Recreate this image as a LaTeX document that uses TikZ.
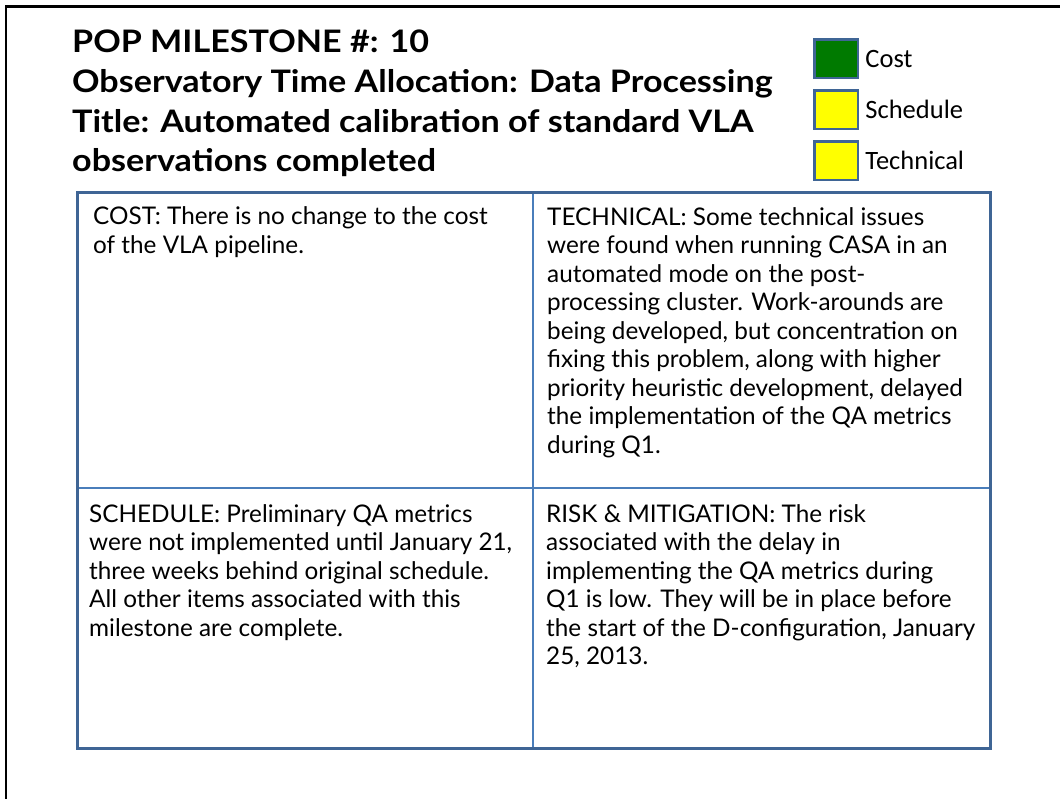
\documentclass[tikz,border=0pt]{standalone}
\usepackage{fontspec}
\setmainfont{Lato}
\newfontfamily\legfont{Carlito}
\newfontfamily\titlefont{Lato}[FakeStretch=1.1]
\usepackage{tikz}
\usetikzlibrary{positioning}
\definecolor{slideblue}{HTML}{3F6595}
\definecolor{cellblue}{HTML}{4A7EBB}
\definecolor{costgreen}{HTML}{007A00}
\definecolor{flagyellow}{HTML}{FFFF00}

\begin{document}
\begin{tikzpicture}[x=1pt, y=-1pt,
    flag/.style={draw=slideblue, line width=2.5pt, minimum width=43.5pt, minimum height=38.5pt, inner sep=0pt},
    flaglabel/.style={right=6pt, inner sep=0pt, font=\legfont\fontsize{26.5}{30}\selectfont},
    cell/.style={draw=cellblue, line width=2pt, inner sep=0pt, outer sep=0pt},
    celltext/.style={anchor=base west, inner sep=0pt, align=left, font=\fontsize{24.3}{28.5}\selectfont}]
    \useasboundingbox (0,0) rectangle (1060,799);
    \draw[line width=2.5pt] (6,799) -- (6,6.5) -- (1060,6.5); % cornice slide

    % titolo (ancora sull'ultima riga)
    \node[anchor=base west, inner sep=0pt, align=left, font=\titlefont\bfseries\fontsize{31}{39.7}\selectfont] (title) at (72,172)
        {POP MILESTONE \#: 10\\Observatory Time Allocation: Data Processing\\Title: Automated calibration of standard VLA\\observations completed};

    % semafori
    \node[flag, fill=costgreen, anchor=north west] (costflag) at (813.25,38.25) {};
    \node[flag, fill=flagyellow, below=10pt of costflag] (schedflag) {};
    \node[flag, fill=flagyellow, below=10pt of schedflag] (techflag) {};
    \node[flaglabel] (costlabel) at (costflag.east) {Cost};
    \node[flaglabel] (schedlabel) at (schedflag.east) {Schedule};
    \node[flaglabel] (techlabel) at (techflag.east) {Technical};

    % tabella
    \node[cell, anchor=north west, minimum width=456pt, minimum height=295pt] (costcell) at (77,193) {};
    \node[cell, anchor=north west, minimum width=457pt, minimum height=295pt] (techcell) at (costcell.north east) {};
    \node[cell, anchor=north west, minimum width=456pt, minimum height=260pt] (schedcell) at (costcell.south west) {};
    \node[cell, anchor=north west, minimum width=457pt, minimum height=260pt] (riskcell) at (schedcell.north east) {};
    \draw[slideblue, line width=3pt] (costcell.north west) rectangle (riskcell.south east); % bordo esterno

    \node[celltext] (costtext) at (93,253.5)
        {COST: There is no change to the cost\\of the VLA pipeline.};
    \node[celltext] (techtext) at (547,453)
        {TECHNICAL:  Some technical issues\\were found when running CASA in an\\automated mode on the post-\\processing cluster.  Work-arounds are\\being developed, but concentration on\\fixing this problem, along with higher\\priority heuristic development, delayed\\the implementation of the QA metrics\\during Q1.};
    \node[celltext] (schedtext) at (89,636)
        {SCHEDULE: Preliminary QA metrics\\were not implemented until January 21,\\three weeks behind original schedule.\\All other items associated with this\\milestone are complete.};
    \node[celltext] (risktext) at (546,664.5)
        {RISK \& MITIGATION: The risk\\associated with the delay in\\implementing the QA metrics during\\Q1  is low.  They will be in place before\\the start of the D-configuration, January\\25, 2013.};
\end{tikzpicture}
\end{document}
